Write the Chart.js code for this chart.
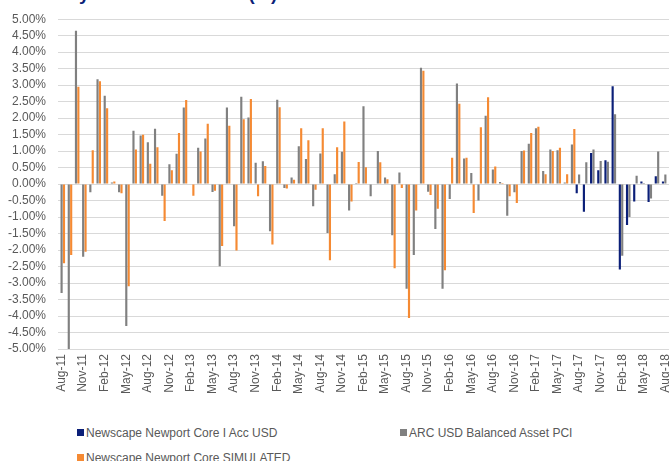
<!DOCTYPE html>
<html>
<head>
<meta charset="utf-8">
<script src="https://cdn.jsdelivr.net/npm/chart.js@4.4.1/dist/chart.umd.min.js"></script>
<style>
    html, body { margin: 0; padding: 0; overflow: hidden; background: #fff; }
    body { width: 669px; height: 461px; position: relative; font-family: "Liberation Sans", Arial, sans-serif; }
    #title { position: absolute; left: 18px; top: -15px; font-size: 18.6px; line-height: 1; font-weight: bold; color: #0b1f78; white-space: nowrap; }
    #wrap { position: absolute; left: 0; top: 0; width: 692px; height: 420px; }
    .lg { position: absolute; font-size: 12px; color: #595959; white-space: nowrap; line-height: 14px; }
    .lg span { display: inline-block; width: 7px; height: 7px; margin-right: 2px; vertical-align: 1px; }
</style>
</head>
<body>
<div id="title">Monthly Net Performance (%)</div>
<div id="wrap"><canvas id="perfChart"></canvas></div>
<div id="legend"></div>
<script>
// months Aug-11 .. Sep-18
const months = ['Aug-11','Sep-11','Oct-11','Nov-11','Dec-11','Jan-12','Feb-12','Mar-12','Apr-12','May-12','Jun-12','Jul-12',
    'Aug-12','Sep-12','Oct-12','Nov-12','Dec-12','Jan-13','Feb-13','Mar-13','Apr-13','May-13','Jun-13','Jul-13',
    'Aug-13','Sep-13','Oct-13','Nov-13','Dec-13','Jan-14','Feb-14','Mar-14','Apr-14','May-14','Jun-14','Jul-14',
    'Aug-14','Sep-14','Oct-14','Nov-14','Dec-14','Jan-15','Feb-15','Mar-15','Apr-15','May-15','Jun-15','Jul-15',
    'Aug-15','Sep-15','Oct-15','Nov-15','Dec-15','Jan-16','Feb-16','Mar-16','Apr-16','May-16','Jun-16','Jul-16',
    'Aug-16','Sep-16','Oct-16','Nov-16','Dec-16','Jan-17','Feb-17','Mar-17','Apr-17','May-17','Jun-17','Jul-17',
    'Aug-17','Sep-17','Oct-17','Nov-17','Dec-17','Jan-18','Feb-18','Mar-18','Apr-18','May-18','Jun-18','Jul-18',
    'Aug-18','Sep-18'];

// Newscape Newport Core I Acc USD (live from Aug-17)
const fundActual = [null,null,null,null,null,null,null,null,null,null,null,null,
    null,null,null,null,null,null,null,null,null,null,null,null,
    null,null,null,null,null,null,null,null,null,null,null,null,
    null,null,null,null,null,null,null,null,null,null,null,null,
    null,null,null,null,null,null,null,null,null,null,null,null,
    null,null,null,null,null,null,null,null,null,null,null,null,
    -0.28,-0.84,0.94,0.42,0.72,2.97,-2.59,-1.24,-0.53,0.08,-0.54,0.24,
    0.08,-0.57];

// ARC USD Balanced Asset PCI
const arcBalanced = [-3.30,-5.30,4.65,-2.20,-0.25,3.18,2.68,0.05,-0.25,-4.30,1.62,1.47,
    1.27,1.68,-0.35,0.60,0.92,2.32,0.02,1.10,1.38,-0.24,-2.49,2.32,
    -1.28,2.65,2.02,0.65,0.69,-1.43,2.56,-0.12,0.20,1.15,0.76,-0.67,
    0.93,-1.48,0.30,0.98,-0.80,0.03,2.36,-0.37,1.00,0.20,-1.55,0.35,
    -3.17,-2.15,3.53,-0.23,-1.36,-3.17,-0.45,3.05,0.78,0.34,-0.50,2.07,
    0.44,0.06,-0.96,-0.25,1.00,1.22,1.69,0.40,1.05,1.03,0.05,1.20,
    0.29,0.66,1.05,0.70,0.68,2.12,-2.17,-1.00,0.25,0.03,-0.44,0.99,
    0.29,null];

// Newscape Newport Core SIMULATED (to Jul-17)
const fundSimulated = [-2.40,-2.15,2.95,-2.05,1.03,3.12,2.30,0.08,-0.28,-3.10,1.05,1.50,
    0.62,1.12,-1.12,0.42,1.55,2.55,-0.35,0.99,1.83,-0.20,-1.88,1.77,
    -2.01,1.97,2.58,-0.37,0.55,-1.83,2.33,-0.13,0.13,1.69,1.33,-0.17,
    1.69,-2.31,1.12,1.90,-0.53,0.67,0.51,0.02,0.66,0.15,-2.55,-0.12,
    -4.06,-0.80,3.44,-0.33,-0.75,-2.61,0.80,2.44,0.80,-0.88,1.72,2.63,
    0.53,0.03,-0.37,-0.57,1.02,1.55,1.74,0.30,1.00,1.10,0.30,1.67,
    null,null,null,null,null,null,null,null,null,null,null,null,
    null,null];

const seriesNames = ['Newscape Newport Core I Acc USD', 'ARC USD Balanced Asset PCI', 'Newscape Newport Core SIMULATED'];
const seriesColors = ['#0b1f78', '#808080', '#f58a33'];

const tickFont = { family: '"Liberation Sans", Arial, sans-serif', size: 12 };

const ctx = document.getElementById('perfChart').getContext('2d');
new Chart(ctx, {
    type: 'bar',
    data: {
        labels: months,
        datasets: [fundActual, arcBalanced, fundSimulated].map((d, i) => ({
            label: seriesNames[i],
            data: d,
            backgroundColor: seriesColors[i],
            borderWidth: 0,
            categoryPercentage: 1.0,
            barPercentage: 0.9
        }))
    },
    options: {
        responsive: true,
        maintainAspectRatio: false,
        animation: false,
        layout: { padding: { top: 19, right: 8, left: 0, bottom: 0 } },
        plugins: { legend: { display: false }, tooltip: { enabled: false } },
        scales: {
            x: {
                grid: { display: false, drawTicks: false },
                border: { display: false },
                ticks: {
                    autoSkip: false,
                    maxRotation: 90,
                    minRotation: 90,
                    padding: 5,
                    color: '#595959',
                    font: tickFont,
                    callback: function (val, idx) { return idx % 3 === 0 ? months[idx] : ''; }
                },
                afterFit: (axis) => { axis.height = 71; }
            },
            y: {
                min: -5,
                max: 5,
                grid: { color: '#d9d9d9', lineWidth: 1, drawTicks: false },
                border: { display: false },
                ticks: {
                    stepSize: 0.5,
                    maxTicksLimit: 30,
                    autoSkip: false,
                    padding: 12,
                    color: '#595959',
                    font: tickFont,
                    callback: (v) => v.toFixed(2) + '%'
                },
                afterFit: (axis) => { axis.width = 58; }
            }
        }
    }
});

// legend, two columns like the source
const legendPos = [[77, 426], [400, 426], [77, 451]];
const legendBox = document.getElementById('legend');
seriesNames.forEach((name, i) => {
    const item = document.createElement('div');
    item.className = 'lg';
    item.style.left = legendPos[i][0] + 'px';
    item.style.top = legendPos[i][1] + 'px';
    item.innerHTML = '<span style="background:' + seriesColors[i] + '"></span>' + name;
    legendBox.appendChild(item);
});
</script>
</body>
</html>
